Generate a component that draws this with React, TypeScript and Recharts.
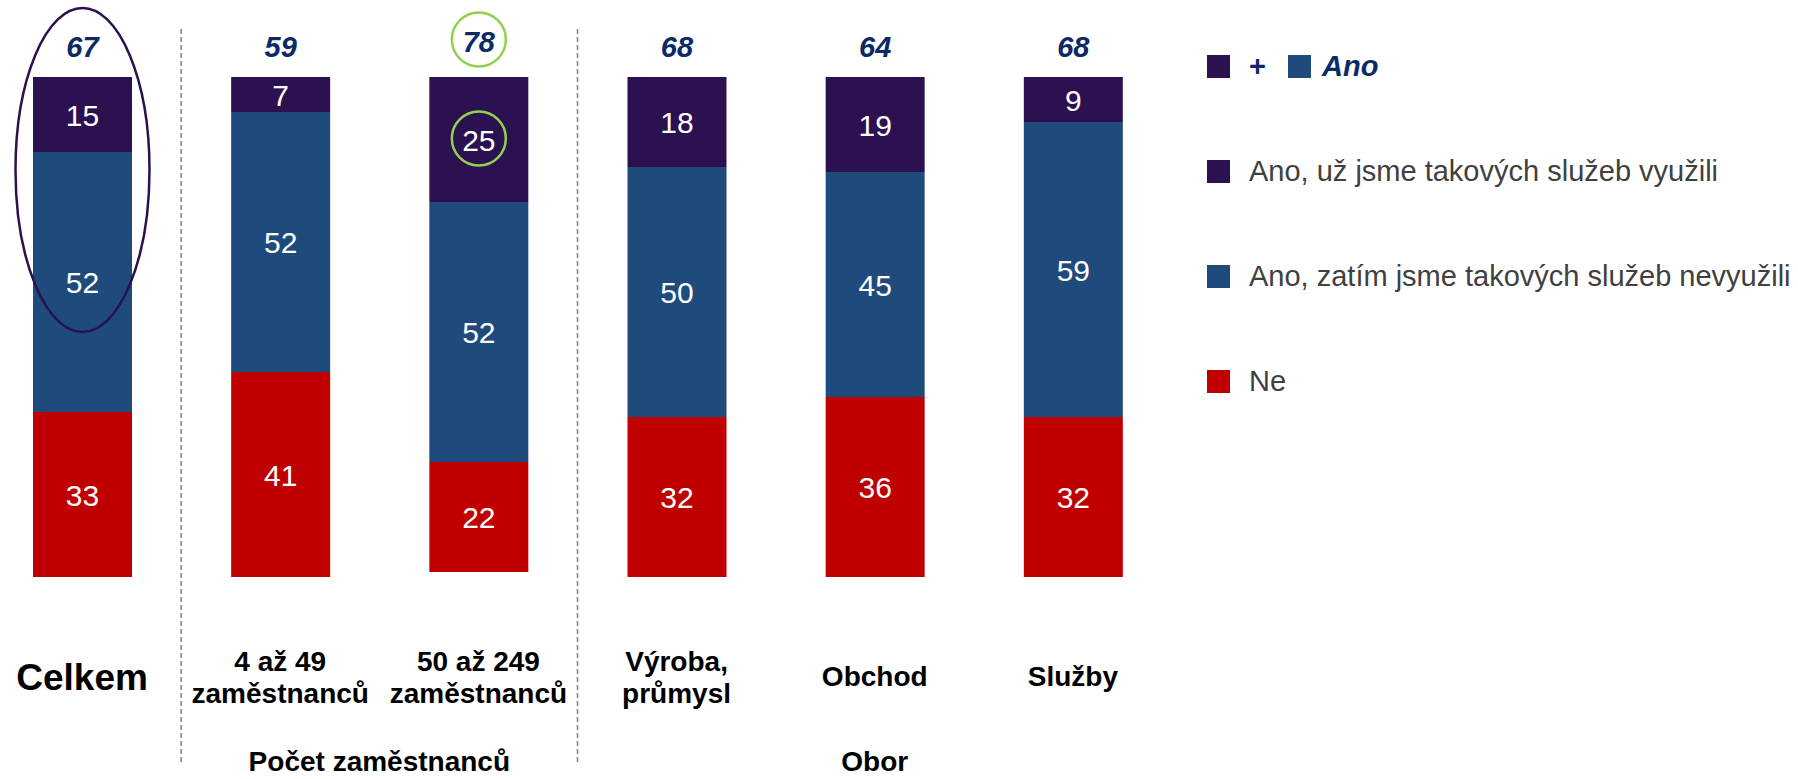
import React from 'react';
import { BarChart, Bar, XAxis, YAxis, LabelList, Legend } from 'recharts';

const categories = ['Celkem', '4 až 49 zaměstnanců', '50 až 249 zaměstnanců', 'Výroba, průmysl', 'Obchod', 'Služby'];
const categoryLines = [['Celkem'], ['4 až 49', 'zaměstnanců'], ['50 až 249', 'zaměstnanců'], ['Výroba,', 'průmysl'], ['Obchod'], ['Služby']];
const usedValues = [15, 7, 25, 18, 19, 9];
const notUsedValues = [52, 52, 52, 50, 45, 59];
const noValues = [33, 41, 22, 32, 36, 32];
const anoTotals = [67, 59, 78, 68, 64, 68];
const groups = [
  { label: 'Počet zaměstnanců', start: 1, end: 2 },
  { label: 'Obor', start: 3, end: 5 },
];
const seriesNames = ['Ano, už jsme takových služeb využili', 'Ano, zatím jsme takových služeb nevyužili', 'Ne'];
const highlightIndex = 2; // 50 až 249 – green circles
const circledIndex = 0; // Celkem – dark ellipse

const PURPLE = '#2c1150';
const BLUE = '#1f4a7c';
const RED = '#c00000';
const NAVY = '#0b2a66';
const GREEN = '#92d050';
const FONT = '"Liberation Sans", Arial, sans-serif';

const W = 1798;
const H = 779;
const CHART_LEFT = -17;
const CHART_W = W - CHART_LEFT;
const PLOT_W = 1189;
const TOP = 77;
const AXIS_H = 202;
const BAND = PLOT_W / categories.length;

const data = categories.map((name, i) => ({
  name,
  used: usedValues[i],
  notUsed: notUsedValues[i],
  no: noValues[i],
  total: anoTotals[i],
}));

const CategoryTick = (props: any) => {
  const { x, y, payload } = props;
  const i = payload.index;
  const lines = categoryLines[i];
  const group = groups.find((g) => g.start === i);
  const txt = { textAnchor: 'middle' as const, fontWeight: 'bold', fill: '#000', fontFamily: FONT };
  return (
    <g>
      {lines.length === 1 ? (
        <text x={x} y={y + (i === 0 ? 113 : 109)} fontSize={i === 0 ? 37 : 28} {...txt}>
          {lines[0]}
        </text>
      ) : (
        lines.map((l, k) => (
          <text key={k} x={x} y={y + 94 + k * 32} fontSize={28} {...txt}>
            {l}
          </text>
        ))
      )}
      {group && (
        <g>
          <line
            x1={x - BAND / 2}
            x2={x - BAND / 2}
            y1={y - 548}
            y2={y + 185}
            stroke="#7f7f7f"
            strokeWidth={1.5}
            strokeDasharray="5 3"
          />
          <text x={x + ((group.end - group.start) * BAND) / 2} y={y + 194} fontSize={28} {...txt}>
            {group.label}
          </text>
        </g>
      )}
    </g>
  );
};

const ValueLabel = (props: any) => {
  const { x, y, width, height, value } = props;
  const cx = x + width / 2;
  const cy = y + height / 2;
  return (
    <text x={cx} y={cy + 11} textAnchor="middle" fill="#fff" fontSize={30} fontFamily={FONT}>
      {value}
    </text>
  );
};

const UsedLabel = (props: any) => {
  const { x, y, width, height, index } = props;
  return (
    <g>
      {index === highlightIndex && (
        <circle cx={x + width / 2} cy={y + height / 2 - 1} r={27} fill="none" stroke={GREEN} strokeWidth={2.5} />
      )}
      <ValueLabel {...props} />
    </g>
  );
};

// drawn on the last series so the annotations sit above every bar
const NoLabel = (props: any) => {
  const { x, y, width, height, index } = props;
  const cx = x + width / 2;
  const segTop = Math.min(y, y + height);
  const perUnit = Math.abs(height) / noValues[index];
  const top = segTop - anoTotals[index] * perUnit;
  return (
    <g>
      <ValueLabel {...props} />
      {index === circledIndex && (
        <ellipse cx={cx} cy={top + 93} rx={67} ry={162} fill="none" stroke={PURPLE} strokeWidth={2.5} />
      )}
      {index === highlightIndex && (
        <circle cx={cx} cy={top - 32.5} r={27} fill="none" stroke={GREEN} strokeWidth={2.5} />
      )}
      <text
        x={cx}
        y={top - 20}
        textAnchor="middle"
        fontSize={29}
        fontWeight="bold"
        fontStyle="italic"
        fill={NAVY}
        fontFamily={FONT}
      >
        {anoTotals[index]}
      </text>
    </g>
  );
};

const swatch = (color: string, left: number, top: number) => (
  <div style={{ position: 'absolute', left, top, width: 23, height: 23, background: color }} />
);

const LegendContent = () => {
  const colors = [PURPLE, BLUE, RED];
  const rowTop = (r: number) => 66 + r * 105 - 11.5;
  const textStyle = { position: 'absolute' as const, lineHeight: '23px', fontSize: 29, whiteSpace: 'nowrap' as const };
  return (
    <div style={{ position: 'relative', width: 600, height: 420, fontFamily: FONT }}>
      {swatch(PURPLE, 0, rowTop(0))}
      <div style={{ ...textStyle, left: 42, top: rowTop(0), color: NAVY, fontWeight: 'bold' }}>+</div>
      {swatch(BLUE, 81, rowTop(0))}
      <div style={{ ...textStyle, left: 115, top: rowTop(0), color: NAVY, fontWeight: 'bold', fontStyle: 'italic' }}>
        Ano
      </div>
      {seriesNames.map((name, k) => (
        <React.Fragment key={name}>
          {swatch(colors[k], 0, rowTop(k + 1))}
          <div style={{ ...textStyle, left: 42, top: rowTop(k + 1), color: '#404040' }}>{name}</div>
        </React.Fragment>
      ))}
    </div>
  );
};

export default function App() {
  return (
    <div
      style={{
        position: 'absolute',
        left: 0,
        top: 0,
        width: W,
        height: H,
        overflow: 'hidden',
        background: '#fff',
        fontFamily: FONT,
      }}
    >
      <div style={{ position: 'absolute', left: CHART_LEFT, top: 0 }}>
        <BarChart
          width={CHART_W}
          height={H}
          data={data}
          margin={{ top: TOP, right: CHART_W - PLOT_W, bottom: 0, left: 0 }}
          barSize={99}
        >
          <XAxis
            dataKey="name"
            axisLine={false}
            tickLine={false}
            tickSize={0}
            tickMargin={0}
            height={AXIS_H}
            interval={0}
            tick={<CategoryTick />}
          />
          <YAxis hide type="number" domain={[0, 100]} reversed />
          <Legend
            layout="vertical"
            align="center"
            verticalAlign="middle"
            wrapperStyle={{ left: 1207 - CHART_LEFT, top: 0, width: 600 }}
            content={<LegendContent />}
          />
          <Bar dataKey="used" name={seriesNames[0]} stackId="a" fill={PURPLE} isAnimationActive={false}>
            <LabelList dataKey="used" content={<UsedLabel />} />
          </Bar>
          <Bar dataKey="notUsed" name={seriesNames[1]} stackId="a" fill={BLUE} isAnimationActive={false}>
            <LabelList dataKey="notUsed" content={<ValueLabel />} />
          </Bar>
          <Bar dataKey="no" name={seriesNames[2]} stackId="a" fill={RED} isAnimationActive={false}>
            <LabelList dataKey="no" content={<NoLabel />} />
          </Bar>
        </BarChart>
      </div>
    </div>
  );
}
